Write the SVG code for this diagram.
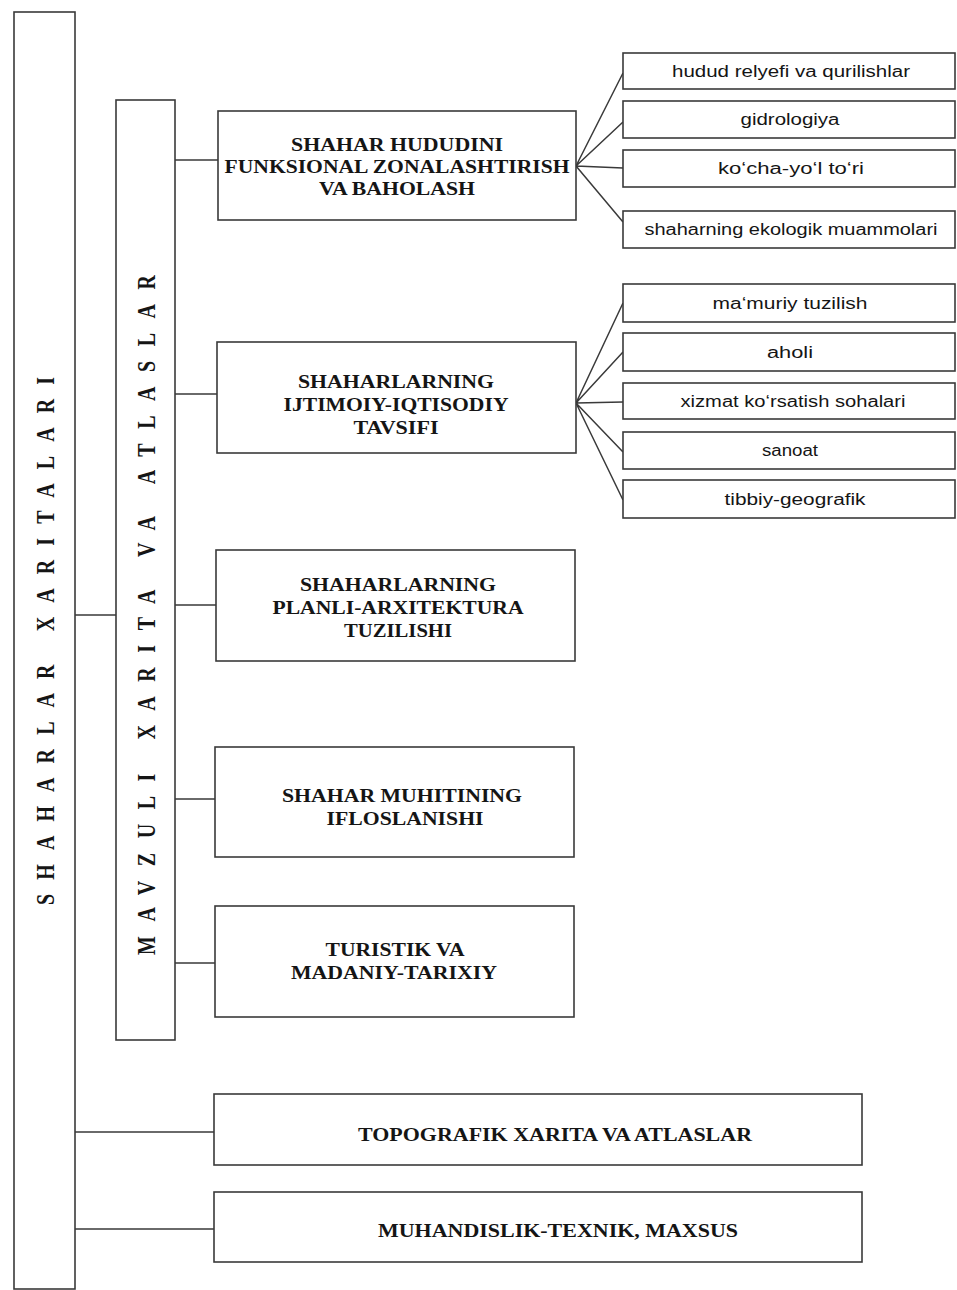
<svg xmlns="http://www.w3.org/2000/svg" width="957" height="1290" viewBox="0 0 957 1290">
<style>
.box{fill:#fff;stroke:#3a3a3a;stroke-width:1.6}
.ln{fill:none;stroke:#3a3a3a;stroke-width:1.5}
.cat{font-family:"Liberation Serif","Times New Roman",serif;font-weight:bold;font-size:18px;fill:#151515;text-anchor:middle}
.leaf{font-family:"Liberation Sans",Arial,sans-serif;font-size:16px;fill:#151515;text-anchor:middle}
.vert{font-family:"Liberation Serif","Times New Roman",serif;font-weight:bold;font-size:20px;fill:#151515;text-anchor:middle}
</style>
<rect width="957" height="1290" fill="#fff"/>

<g id="connectors">
<path class="ln" d="M75 615H116M75 1132H214M75 1229H214"/>
<path class="ln" d="M175 160H218M175 394H217M175 605H216M175 799H215M175 963H215"/>
<path class="ln" d="M576 166L623 73M576 166L623 122M576 166L623 168M576 166L623 222"/>
<path class="ln" d="M576 403L623 303M576 403L623 352M576 403L623 402M576 403L623 452M576 403L623 500"/>
</g>

<g id="n-shahar-xaritalari">
<rect class="box" x="14" y="12" width="61" height="1277"/>
<text class="vert" transform="translate(54,641) scale(1.25,1) rotate(-90)" textLength="528" lengthAdjust="spacing">SHAHARLAR XARITALARI</text>
</g>

<g id="n-mavzuli">
<rect class="box" x="116" y="100" width="59" height="940"/>
<text class="vert" transform="translate(155,615) scale(1.25,1) rotate(-90)" textLength="680" lengthAdjust="spacing">MAVZULI XARITA VA ATLASLAR</text>
</g>

<g id="n-funksional">
<rect class="box" x="218" y="111" width="358" height="109"/>
<text class="cat" x="397" y="151" textLength="212" lengthAdjust="spacingAndGlyphs">SHAHAR HUDUDINI</text>
<text class="cat" x="397" y="173" textLength="345" lengthAdjust="spacingAndGlyphs">FUNKSIONAL ZONALASHTIRISH</text>
<text class="cat" x="397" y="195" textLength="156" lengthAdjust="spacingAndGlyphs">VA BAHOLASH</text>
</g>

<g id="n-ijtimoiy">
<rect class="box" x="217" y="342" width="359" height="111"/>
<text class="cat" x="396" y="388" textLength="196" lengthAdjust="spacingAndGlyphs">SHAHARLARNING</text>
<text class="cat" x="396" y="411" textLength="225" lengthAdjust="spacingAndGlyphs">IJTIMOIY-IQTISODIY</text>
<text class="cat" x="396" y="434" textLength="85" lengthAdjust="spacingAndGlyphs">TAVSIFI</text>
</g>

<g id="n-planli">
<rect class="box" x="216" y="550" width="359" height="111"/>
<text class="cat" x="398" y="591" textLength="196" lengthAdjust="spacingAndGlyphs">SHAHARLARNING</text>
<text class="cat" x="398" y="614" textLength="251" lengthAdjust="spacingAndGlyphs">PLANLI-ARXITEKTURA</text>
<text class="cat" x="398" y="637" textLength="108" lengthAdjust="spacingAndGlyphs">TUZILISHI</text>
</g>

<g id="n-ifloslanishi">
<rect class="box" x="215" y="747" width="359" height="110"/>
<text class="cat" x="402" y="802" textLength="240" lengthAdjust="spacingAndGlyphs">SHAHAR MUHITINING</text>
<text class="cat" x="405" y="825" textLength="157" lengthAdjust="spacingAndGlyphs">IFLOSLANISHI</text>
</g>

<g id="n-turistik">
<rect class="box" x="215" y="906" width="359" height="111"/>
<text class="cat" x="395" y="956" textLength="139" lengthAdjust="spacingAndGlyphs">TURISTIK VA</text>
<text class="cat" x="394" y="979" textLength="206" lengthAdjust="spacingAndGlyphs">MADANIY-TARIXIY</text>
</g>

<g id="n-topografik">
<rect class="box" x="214" y="1094" width="648" height="71"/>
<text class="cat" x="555" y="1141" textLength="394" lengthAdjust="spacingAndGlyphs">TOPOGRAFIK XARITA VA ATLASLAR</text>
</g>

<g id="n-muhandislik">
<rect class="box" x="214" y="1192" width="648" height="70"/>
<text class="cat" x="558" y="1237" textLength="360" lengthAdjust="spacingAndGlyphs">MUHANDISLIK-TEXNIK, MAXSUS</text>
</g>

<g id="n-relyef">
<rect class="box" x="623" y="53" width="332" height="36"/>
<text class="leaf" x="791" y="77" textLength="238" lengthAdjust="spacingAndGlyphs">hudud relyefi va qurilishlar</text>
</g>
<g id="n-gidrologiya">
<rect class="box" x="623" y="101" width="332" height="37"/>
<text class="leaf" x="790" y="125" textLength="99" lengthAdjust="spacingAndGlyphs">gidrologiya</text>
</g>
<g id="n-kocha">
<rect class="box" x="623" y="150" width="332" height="37"/>
<text class="leaf" x="791" y="174" textLength="146" lengthAdjust="spacingAndGlyphs">ko‘cha-yo‘l to‘ri</text>
</g>
<g id="n-ekologik">
<rect class="box" x="623" y="211" width="332" height="37"/>
<text class="leaf" x="791" y="235" textLength="293" lengthAdjust="spacingAndGlyphs">shaharning ekologik muammolari</text>
</g>

<g id="n-mamuriy">
<rect class="box" x="623" y="284" width="332" height="38"/>
<text class="leaf" x="790" y="309" textLength="155" lengthAdjust="spacingAndGlyphs">ma‘muriy tuzilish</text>
</g>
<g id="n-aholi">
<rect class="box" x="623" y="333" width="332" height="38"/>
<text class="leaf" x="790" y="358" textLength="46" lengthAdjust="spacingAndGlyphs">aholi</text>
</g>
<g id="n-xizmat">
<rect class="box" x="623" y="383" width="332" height="36"/>
<text class="leaf" x="793" y="407" textLength="225" lengthAdjust="spacingAndGlyphs">xizmat ko‘rsatish sohalari</text>
</g>
<g id="n-sanoat">
<rect class="box" x="623" y="432" width="332" height="37"/>
<text class="leaf" x="790" y="456" textLength="56" lengthAdjust="spacingAndGlyphs">sanoat</text>
</g>
<g id="n-tibbiy">
<rect class="box" x="623" y="480" width="332" height="38"/>
<text class="leaf" x="795" y="505" textLength="141" lengthAdjust="spacingAndGlyphs">tibbiy-geografik</text>
</g>
</svg>
